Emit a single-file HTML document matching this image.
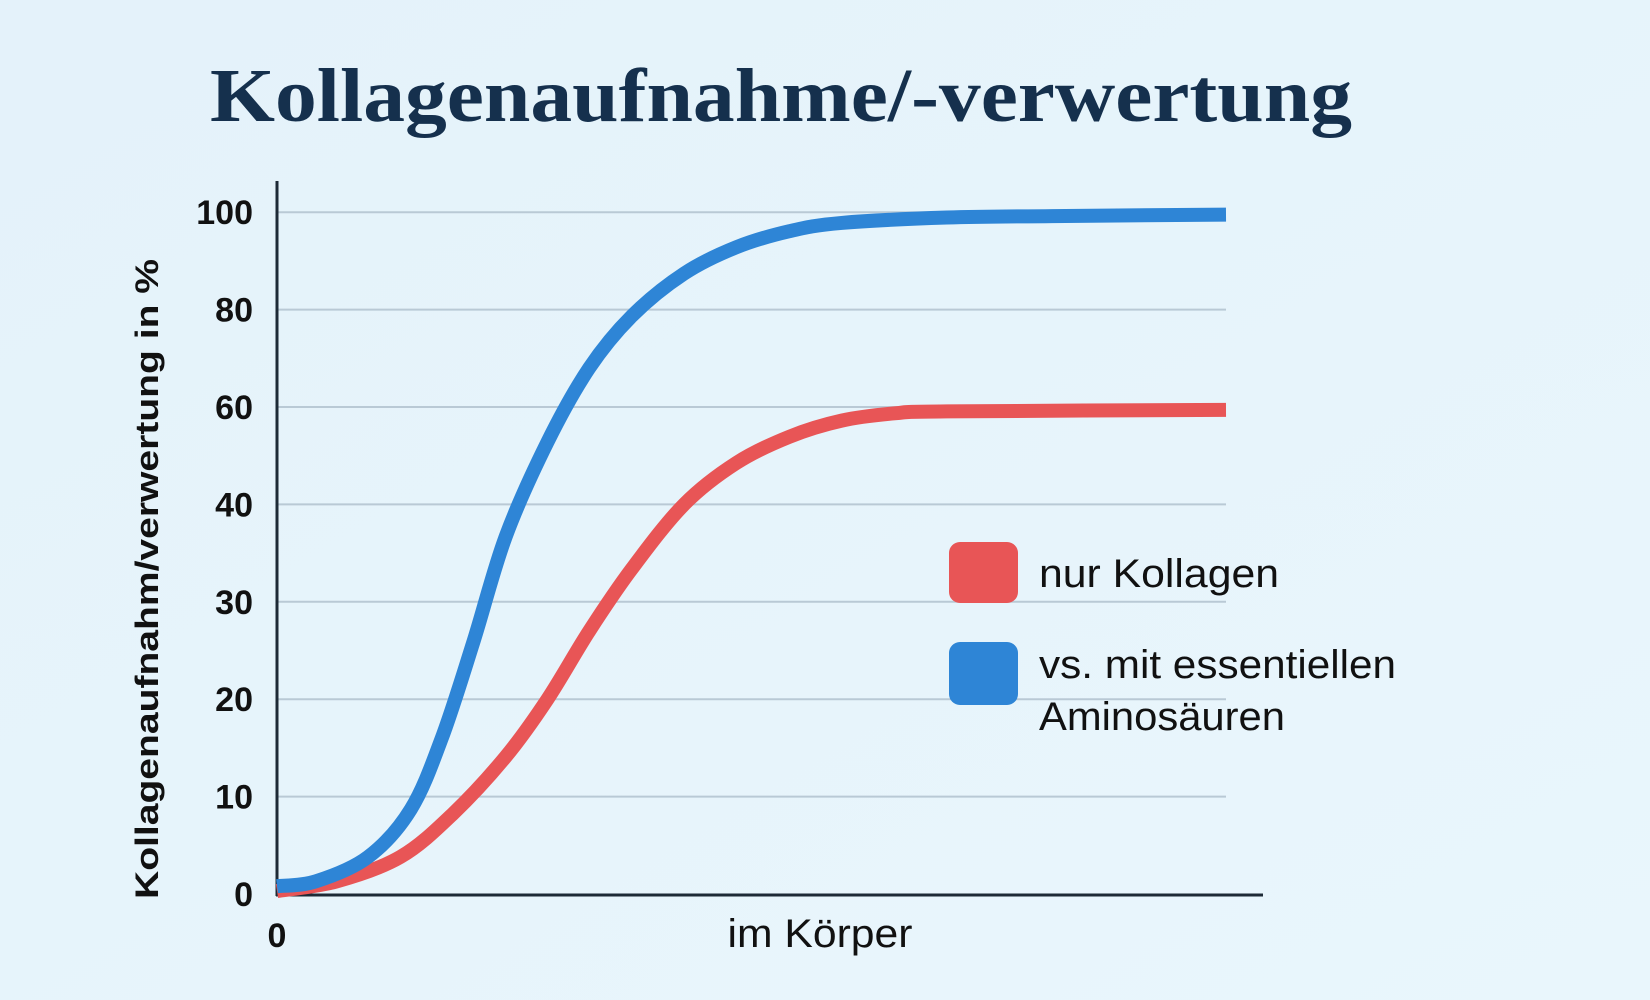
<!DOCTYPE html>
<html><head><meta charset="utf-8"><style>
html,body{margin:0;padding:0;background:#e7f4fb;}
svg{display:block;}
</style></head><body>
<svg width="1650" height="1000" viewBox="0 0 1650 1000" xmlns="http://www.w3.org/2000/svg">
<defs><linearGradient id="bg" x1="0" y1="0" x2="1" y2="1"><stop offset="0" stop-color="#e4f2fa"/><stop offset="1" stop-color="#e9f6fc"/></linearGradient></defs>
<rect width="1650" height="1000" fill="url(#bg)"/>
<text x="781" y="121" text-anchor="middle" font-family="Liberation Serif, serif" font-weight="bold" font-size="76" fill="#15304d" textLength="1142" lengthAdjust="spacingAndGlyphs">Kollagenaufnahme/-verwertung</text>
<g id="grid"></g>
<g id="yticks"></g>
<line x1="277" y1="181" x2="277" y2="896" stroke="#1d2a36" stroke-width="3"/>
<line x1="276" y1="895" x2="1263" y2="895" stroke="#1d2a36" stroke-width="3"/>
<text transform="translate(158,579) rotate(-90)" text-anchor="middle" font-family="Liberation Sans, sans-serif" font-weight="bold" font-size="32" fill="#111" textLength="640" lengthAdjust="spacingAndGlyphs">Kollagenaufnahm/verwertung in %</text>
<text x="277" y="947" text-anchor="middle" font-family="Liberation Sans, sans-serif" font-weight="bold" font-size="34" fill="#111">0</text>
<text x="820" y="947" text-anchor="middle" font-family="Liberation Sans, sans-serif" font-size="40" fill="#111" textLength="185" lengthAdjust="spacingAndGlyphs">im Körper</text>
<g id="series"></g>
<g>
<rect x="949" y="542" width="69" height="61" rx="11" fill="#e85556"/>
<text x="1039" y="587" font-family="Liberation Sans, sans-serif" font-size="40" fill="#111" textLength="240" lengthAdjust="spacingAndGlyphs">nur Kollagen</text>
<rect x="949" y="642" width="69" height="63" rx="11" fill="#2e85d6"/>
<text x="1039" y="678" font-family="Liberation Sans, sans-serif" font-size="40" fill="#111" textLength="357" lengthAdjust="spacingAndGlyphs">vs. mit essentiellen</text>
<text x="1039" y="730" font-family="Liberation Sans, sans-serif" font-size="40" fill="#111" textLength="246" lengthAdjust="spacingAndGlyphs">Aminosäuren</text>
</g>
</svg>
<script>
const yTicks=[0,10,20,30,40,60,80,100];
const yTickLabels=["0","10","20","30","40","60","80","100"];
const blueX=[0,4.1,9.6,14.1,17.4,20.7,24.1,28.5,32.9,37.4,42.9,48.4,54,59.5,70.6,81.7,100];
const blueY=[0.8,1.3,3.8,8.7,16.1,25.9,36.7,52.8,68,78.7,87.4,92.8,96.1,97.8,98.9,99.2,99.5];
const redX=[0,6.3,13,18.5,24.1,28.5,32.9,37.4,42.9,48.4,54,59.5,65.1,70.6,100];
const redY=[0.3,1.3,3.8,8.2,14.1,20,27,33.4,40,48.5,53.9,57.2,58.7,59.1,59.4];
const NS="http://www.w3.org/2000/svg";
const y0=894,rowH=97.4,xL=277,xR=1226;
function yScale(v){
  for(let i=0;i<yTicks.length-1;i++){
    if(v<=yTicks[i+1]||i===yTicks.length-2){
      const t=(v-yTicks[i])/(yTicks[i+1]-yTicks[i]);
      return y0-(i+t)*rowH;
    }
  }
}
function xScale(v){return xL+(v/100)*(xR-xL);}
const grid=document.getElementById('grid'),yt=document.getElementById('yticks');
yTicks.forEach((v,i)=>{
  if(v>0){
    const l=document.createElementNS(NS,'line');
    
    
    l.setAttribute('x1',xL);l.setAttribute('x2',xR);
    l.setAttribute('y1',yScale(v));l.setAttribute('y2',yScale(v));
    l.setAttribute('stroke','#b9c9d5');l.setAttribute('stroke-width','2');
    grid.appendChild(l);
  }
  const t=document.createElementNS(NS,'text');
  
  
  t.setAttribute('x',253);t.setAttribute('y',yScale(v)+12);
  t.setAttribute('text-anchor','end');
  t.setAttribute('font-family','Liberation Sans, sans-serif');
  t.setAttribute('font-weight','bold');
  t.setAttribute('font-size','34');t.setAttribute('fill','#111');
  t.textContent=yTickLabels[i];
  yt.appendChild(t);
});
function pathFor(xs,ys){
  const p=xs.map((x,i)=>[xScale(x),yScale(ys[i])]);
  let d='M'+p[0][0]+','+p[0][1];
  for(let i=0;i<p.length-1;i++){
    const a=p[i-1]||p[i],b=p[i],c=p[i+1],e=p[i+2]||c;
    const c1=[b[0]+(c[0]-a[0])/6,b[1]+(c[1]-a[1])/6];
    const c2=[c[0]-(e[0]-b[0])/6,c[1]-(e[1]-b[1])/6];
    d+=' C'+c1+' '+c2+' '+c;
  }
  return d;
}
const s=document.getElementById('series');
[[redX,redY,'#e85556','line-nur-kollagen'],[blueX,blueY,'#2e85d6','line-mit-aminosaeuren']].forEach(([xs,ys,c,n])=>{
  const p=document.createElementNS(NS,'path');
  
  
  p.setAttribute('d',pathFor(xs,ys));
  p.setAttribute('fill','none');p.setAttribute('stroke',c);
  p.setAttribute('stroke-width','14');
  s.appendChild(p);
});
</script>
</body></html>
